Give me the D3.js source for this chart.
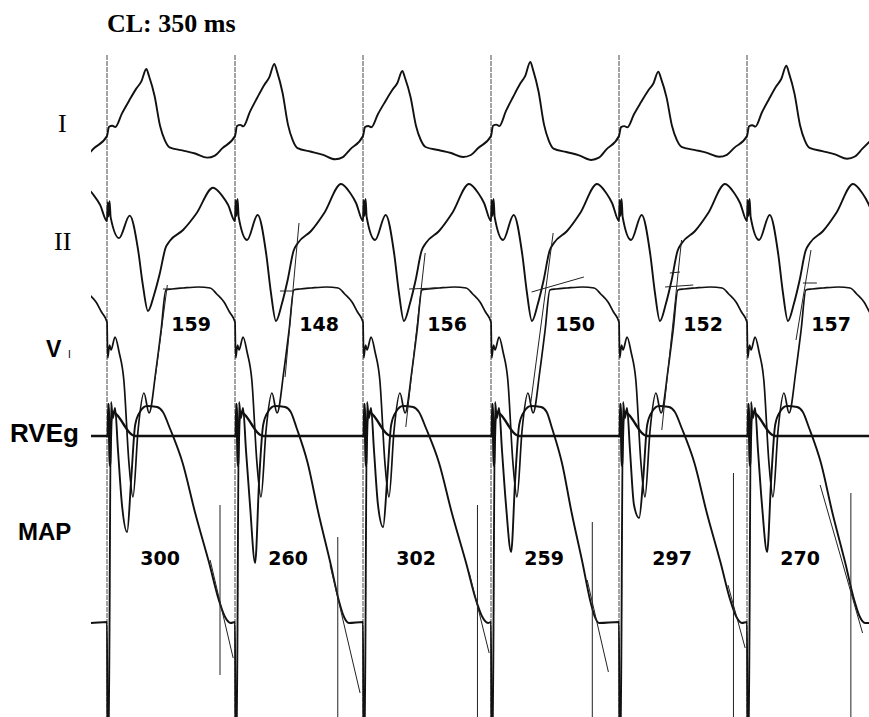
<!DOCTYPE html>
<html><head><meta charset="utf-8">
<script src="https://cdn.jsdelivr.net/npm/d3@7"></script>
<style>html,body{margin:0;padding:0;background:#fff}</style>
</head><body>
<svg id="c" width="869" height="717"></svg>
<script>
// ---------------- data ----------------
const titleText = "CL: 350 ms";
const leadNames = ["I", "II", "V", "RVEg", "MAP"];
const stimulusMs = [0, 350, 700, 1050, 1400, 1750];          // pacing stimuli, CL 350 ms
const beatStartMs = [-350, 0, 350, 700, 1050, 1400, 1750];   // first entry = partial beat before first stimulus
const intervalValues = [159, 148, 156, 150, 152, 157];       // upper row of numbers (ms)
const mapValues = [300, 260, 302, 259, 297, 270];            // MAP durations (ms)

// one-beat templates: [ms after stimulus, amplitude]
const leadITemplate = [[0,0],[5.5,0.9],[14.5,1.0],[22.7,0.87],[41,2.2],[60,3.4],[80,4.6],[94,5.3],[107.5,6.5],[115,5.8],[130,3.9],[145,1.0],[158,-0.4],[171,-1.1],[206,-1.4],[241,-1.7],[274,-2.1],[295,-1.9],[315,-1.2],[350,0]];
const leadIITemplate = [[0,0],[2,2.1],[4,0.5],[7,2.2],[10,0.4],[33,-1.9],[62,0.6],[85,-3.2],[98,-7.1],[112,-10.0],[128,-8.3],[144,-5.9],[160,-3.0],[172,-2.2],[208,-1.0],[244,0.8],[290,3.7],[315,2.8],[331,1.8],[350,0]];
const leadV1Template = [[0,0],[2,-3.6],[7,-2.3],[11,-2.8],[22,-1.5],[33,-3.0],[46,-5.8],[60,-14.1],[71,-17.5],[85,-10.8],[101,-7.1],[115,-9.1],[134,-4.8],[148,-0.8],[161,3.2],[178,3.3],[208,3.4],[250,3.5],[282,3.4],[300,2.8],[320,2.0],[335,1.0],[350,0]];
const rvegTemplate = [[0,0],[2,0],[4,3.2],[8,-3.0],[12,1.5],[16,2.4],[30,2.0],[45,1.2],[60,0.4],[77,0],[200,0],[350,0]];
const mapTemplate = [[0,0.2],[1.6,-14],[4,-14],[11,22.2],[16,20.6],[22,21.6],[30,17.4],[41,11.9],[55,9.6],[66,14.4],[77,19.9],[90,21.2],[109,21.8],[137,21.7],[153,21.2],[172,19.6],[208,16.1],[243,11.1],[282,6.1],[309,2.4],[325,0.8],[342,0.1],[350,0.1]];

// per-beat variation (7 entries, first = partial preceding beat)
const leadIGain  = [1.0, 1.03, 1.11, 1.0, 1.14, 0.99, 1.08];
const leadIIGain = [0.9, 0.9, 1.0, 1.0, 1.0, 1.0, 1.0];
const mapNotch   = [7.2, 9.2, 6.1, 9.7, 7.2, 10.6, 7.2];
const mapRepolScale = [0.8, 0.98, 0.84, 1.0, 0.76, 0.97, 0.9];

// measurement marks (per paced beat): [ms after stimulus, amp, ms, amp]
const v1Tangent = [[131,-5.8,165,3.7],[137,-5.5,175,9.9],[117,-10.5,170,6.9],[109,-8.0,170,8.9],[117,-10.8,171,8.2],[134,-1.8,175,7.2]];
const v1Plateau = [[0,153,3.3,170,3.3],[1,123,3.1,159,3.1],[2,126,3.3,199,3.4],[3,111,3.0,254,4.5],[4,126,3.5,203,3.7],[4,139,4.9,167,5.0],[5,153,3.9,191,3.9]];
const mapTangent = [[282,6.4,345,-3.4],[260,5.9,342,-6.9],[290,5.2,345,-2.9],[263,4.4,321,-4.8],[298,3.9,345,-2.4],[200,13.9,316,-0.9]];
const mapMarkerMs = [309, 281, 313, 277, 313, 284];
const mapMarkerTop = [11.9, 8.7, 11.9, 10.2, 15.1, 13.1];
const mapMarkerBottom = [-5.1, -12, -12, -12, -12, -12];

// ---------------- layout ----------------
const W = 869, H = 717;
const svg = d3.select("#c");
const x = d3.scaleLinear().domain([0, 1750]).range([107, 747]);
const baseY = {I:136, II:221, V1:322, RVEg:436, MAP:624};
const yScale = k => d3.scaleLinear().domain([0, 1]).range([baseY[k], baseY[k] - 10]);
const yI = yScale("I"), yII = yScale("II"), yV1 = yScale("V1"), yR = yScale("RVEg"), yM = yScale("MAP");

svg.append("defs").append("clipPath").attr("id","trace")
  .append("rect").attr("x", 91).attr("y", 0).attr("width", W - 91).attr("height", H);

// stimulus marker lines
svg.append("g").selectAll("line").data(stimulusMs).join("line")
  .attr("x1", d => x(d)).attr("x2", d => x(d))
  .attr("y1", 55).attr("y2", H)
  .attr("stroke", "#333").attr("stroke-width", 0.9).attr("stroke-dasharray", "5,1");

function buildSeries(template, ampFn, timeFn) {
  const pts = [];
  beatStartMs.forEach((t0, b) => {
    const last = b === beatStartMs.length - 1;
    template.forEach((p, i) => {
      if (!last && i === template.length - 1) return;
      const tt = timeFn ? timeFn(p[0], b, i) : p[0];
      pts.push([t0 + tt, ampFn(p[1], b, i)]);
    });
  });
  return pts;
}

const traces = [
  {data: buildSeries(leadITemplate, (a,b)=>a*leadIGain[b]), y: yI, w: 1.9},
  {data: buildSeries(leadIITemplate, (a,b)=>a*leadIIGain[b]), y: yII, w: 1.9},
  {data: buildSeries(leadV1Template, a=>a), y: yV1, w: 1.7},
  {data: buildSeries(rvegTemplate, a=>a), y: yR, w: 2.4},
  {data: buildSeries(mapTemplate, (a,b,i)=> i === 8 ? mapNotch[b] : a,
     (t,b,i)=> (t > 150 && i < mapTemplate.length - 1) ? 150 + (t - 150) * mapRepolScale[b] : t), y: yM, w: 1.9}
];

const tg = svg.append("g").attr("clip-path", "url(#trace)");
traces.forEach(tr => {
  const line = d3.line().x(d => x(d[0])).y(d => tr.y(d[1])).curve(d3.curveMonotoneX);
  tg.append("path").attr("d", line(tr.data)).attr("fill","none")
    .attr("stroke","#111").attr("stroke-width", tr.w).attr("stroke-linejoin","round");
});

// measurement lines
const mg = svg.append("g").attr("stroke","#222").attr("stroke-width",1).attr("fill","none");
v1Tangent.forEach((d, b) => {
  mg.append("line").attr("x1", x(stimulusMs[b] + d[0])).attr("y1", yV1(d[1]))
    .attr("x2", x(stimulusMs[b] + d[2])).attr("y2", yV1(d[3]));
});
v1Plateau.forEach(d => {
  mg.append("line").attr("x1", x(stimulusMs[d[0]] + d[1])).attr("y1", yV1(d[2]))
    .attr("x2", x(stimulusMs[d[0]] + d[3])).attr("y2", yV1(d[4]));
});
mapTangent.forEach((d, b) => {
  mg.append("line").attr("x1", x(stimulusMs[b] + d[0])).attr("y1", yM(d[1]))
    .attr("x2", x(stimulusMs[b] + d[2])).attr("y2", yM(d[3]));
});
mapMarkerMs.forEach((t, b) => {
  mg.append("line").attr("x1", x(stimulusMs[b] + t)).attr("x2", x(stimulusMs[b] + t))
    .attr("y1", yM(mapMarkerTop[b])).attr("y2", yM(mapMarkerBottom[b]));
});

// title
svg.append("text").attr("x", 107).attr("y", 32).text(titleText)
  .attr("font-family","'Liberation Serif', 'Times New Roman', serif").attr("font-weight","bold").attr("font-size", 26);

// lead labels
const serif = "'Liberation Serif', 'Times New Roman', serif";
const sans = "'Liberation Sans', Arial, Helvetica, sans-serif";
svg.append("text").attr("x", 58).attr("y", 132).text(leadNames[0]).attr("font-family", serif).attr("font-size", 26);
svg.append("text").attr("x", 54).attr("y", 250).text(leadNames[1]).attr("font-family", serif).attr("font-size", 26);
svg.append("text").attr("x", 46).attr("y", 357).text(leadNames[2]).attr("font-family", sans).attr("font-weight","bold").attr("font-size", 23);
svg.append("text").attr("x", 68).attr("y", 358).text("I").attr("font-family", sans).attr("font-size", 10);
svg.append("text").attr("x", 10).attr("y", 442).text(leadNames[3]).attr("font-family", sans).attr("font-weight","bold").attr("font-size", 26);
svg.append("text").attr("x", 18).attr("y", 540).text(leadNames[4]).attr("font-family", sans).attr("font-weight","bold").attr("font-size", 24);

// numbers
const numFont = "'DejaVu Sans', Verdana, sans-serif";
svg.append("g").selectAll("text").data(intervalValues).join("text")
  .attr("x", (d,i) => x(stimulusMs[i] + 230)).attr("y", 331)
  .attr("text-anchor","middle").attr("font-family", numFont).attr("font-weight","bold").attr("font-size", 19)
  .text(d => d);
svg.append("g").selectAll("text").data(mapValues).join("text")
  .attr("x", (d,i) => x(stimulusMs[i] + 145)).attr("y", 565)
  .attr("text-anchor","middle").attr("font-family", numFont).attr("font-weight","bold").attr("font-size", 19)
  .text(d => d);
</script>
</body></html>
